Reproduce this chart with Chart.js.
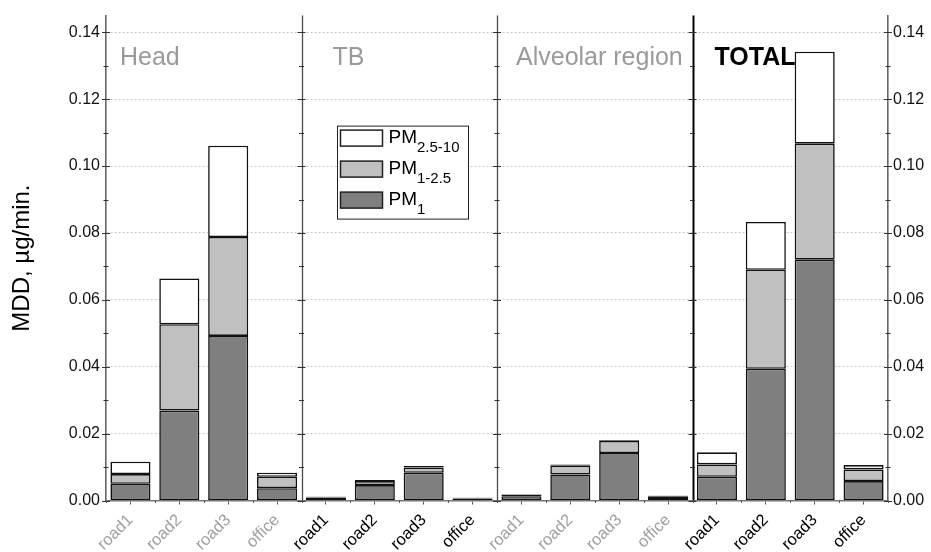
<!DOCTYPE html>
<html>
<head>
<meta charset="utf-8">
<script src="https://cdn.jsdelivr.net/npm/chart.js@4.4.1/dist/chart.umd.min.js"></script>
<style>
  html, body { margin: 0; padding: 0; background: #fff; }
  canvas { display: block; }
</style>
</head>
<body>
<canvas id="c" width="931" height="552"></canvas>
<script>
// Deposition regions and sampling sites
const regions = ['Head', 'TB', 'Alveolar region', 'TOTAL'];
const sites = ['road1', 'road2', 'road3', 'office'];
const categories = regions.flatMap(() => sites);

// MDD per size fraction (µg/min), ordered Head | TB | Alveolar | TOTAL
const pm1 = [
  0.0050, 0.0269, 0.0492, 0.0037,
  0.0009, 0.0046, 0.0083, 0.0006,
  0.0013, 0.0078, 0.0142, 0.0011,
  0.0071, 0.0394, 0.0720, 0.0058
];
const pm1to25 = [
  0.0029, 0.0258, 0.0296, 0.0034,
  0.0002, 0.0012, 0.0016, 0.0002,
  0.0004, 0.0026, 0.0036, 0.0003,
  0.0037, 0.0296, 0.0347, 0.0035
];
const pm25to10 = [
  0.0037, 0.0137, 0.0273, 0.0012,
  0.0001, 0.0003, 0.0004, 0.0001,
  0.0002, 0.0004, 0.0002, 0.0001,
  0.0036, 0.0143, 0.0275, 0.0013
];

// Value axis tick positions
const yTickValues = [0, 0.02, 0.04, 0.06, 0.08, 0.10, 0.12, 0.14];

// Legend entries: base text + subscript
const legendEntries = [['PM', '2.5-10'], ['PM', '1-2.5'], ['PM', '1']];

const FONT = '"Liberation Sans", Arial, Helvetica, sans-serif';
const fillColors = { pm1: '#7f7f7f', pm1to25: '#c0c0c0', pm25to10: '#ffffff' };
const legendFills = [fillColors.pm25to10, fillColors.pm1to25, fillColors.pm1];
const titleOffsets = [14, 31, 19, 22];

function seg(ctx, x1, y1, x2, y2) {
  ctx.beginPath(); ctx.moveTo(x1, y1); ctx.lineTo(x2, y2); ctx.stroke();
}

const overlay = {
  id: 'overlay',
  afterDraw(chart) {
    const { ctx, chartArea: a, scales: { x, y } } = chart;
    ctx.save();

    // group separators
    const bounds = [3.5, 7.5, 11.5];
    bounds.forEach((v, i) => {
      const px = Math.round(x.getPixelForValue(v)) + 0.5;
      ctx.strokeStyle = i === 2 ? '#000' : '#4a4a4a';
      ctx.lineWidth = i === 2 ? 2 : 1.3;
      seg(ctx, px, a.top, px, a.bottom);
    });

    // tick marks on the axes and separators (major every 0.02, minor every 0.01)
    const posts = [a.left, ...bounds.map(v => x.getPixelForValue(v)), a.right];
    ctx.strokeStyle = '#333';
    ctx.lineWidth = 1;
    for (let k = 0; k <= 14; k++) {
      const py = Math.round(y.getPixelForValue(k * 0.01)) + 0.5;
      const len = k % 2 === 0 ? 4 : 2.5;
      posts.forEach(p => seg(ctx, p - len, py, p + len, py));
    }
    // minor ticks between categories on the bottom axis
    ctx.strokeStyle = '#555';
    for (let i = 0; i <= categories.length; i++) {
      const px = Math.round(x.getPixelForValue(i - 0.5)) + 0.5;
      seg(ctx, px, a.bottom, px, a.bottom + 2.5);
    }

    // region titles
    ctx.textBaseline = 'middle';
    ctx.textAlign = 'left';
    regions.forEach((r, i) => {
      const px = x.getPixelForValue(i * 4 - 0.5) + titleOffsets[i];
      const last = i === regions.length - 1;
      ctx.font = (last ? 'bold ' : '') + '25px ' + FONT;
      ctx.fillStyle = last ? '#000' : '#9a9a9a';
      ctx.fillText(r, px, a.top + 43);
    });

    // legend box
    const bx = a.left + 231.5, by = a.top + 110.5, bw = 131, bh = 93;
    ctx.fillStyle = '#fff';
    ctx.fillRect(bx, by, bw, bh);
    ctx.strokeStyle = '#222';
    ctx.lineWidth = 1;
    ctx.strokeRect(bx, by, bw, bh);
    legendEntries.forEach(([base, sub], i) => {
      const sy = by + 4 + i * 31;
      ctx.fillStyle = legendFills[i];
      ctx.fillRect(bx + 3, sy, 42, 16);
      ctx.lineWidth = 1.5;
      ctx.strokeStyle = '#222';
      ctx.strokeRect(bx + 3, sy, 42, 16);
      ctx.fillStyle = '#000';
      ctx.textBaseline = 'alphabetic';
      ctx.font = '19px ' + FONT;
      const tx = bx + 51;
      ctx.fillText(base, tx, sy + 13);
      const w = ctx.measureText(base).width;
      ctx.font = '15px ' + FONT;
      ctx.fillText(sub, tx + w, sy + 22);
    });

    ctx.restore();
  }
};

const setTicks = s => { s.ticks = yTickValues.map(v => ({ value: v })); };

new Chart(document.getElementById('c'), {
  type: 'bar',
  data: {
    labels: categories,
    datasets: [
      { label: 'PM1', data: pm1, backgroundColor: fillColors.pm1 },
      { label: 'PM1-2.5', data: pm1to25, backgroundColor: fillColors.pm1to25 },
      { label: 'PM2.5-10', data: pm25to10, backgroundColor: fillColors.pm25to10 }
    ].map(d => Object.assign(d, {
      borderColor: '#111',
      borderWidth: 1.6,
      borderSkipped: false,
      categoryPercentage: 1,
      barPercentage: 0.82
    }))
  },
  options: {
    responsive: false,
    animation: false,
    layout: { padding: { top: 11, left: 0, right: 0, bottom: 0 } },
    plugins: { legend: { display: false }, tooltip: { enabled: false } },
    scales: {
      x: {
        stacked: true,
        afterFit: s => { s.height = 51.5; },
        grid: { display: true, drawOnChartArea: false, drawTicks: true, tickLength: 4, offset: false, color: '#555' },
        border: { display: true, color: '#777', width: 1.5 },
        ticks: {
          autoSkip: false,
          minRotation: 45,
          maxRotation: 45,
          padding: 6,
          font: { family: FONT, size: 16.5 },
          color: ctx => (Math.floor(ctx.index / 4) % 2 === 0 ? '#a0a0a0' : '#000')
        }
      },
      y: {
        stacked: true,
        position: 'left',
        min: 0,
        max: 0.145,
        afterBuildTicks: setTicks,
        afterFit: s => { s.width = 106; },
        grid: { color: '#c8c8c8', lineWidth: 1, drawTicks: false },
        border: { display: true, color: '#666', width: 1.6, dash: [2, 2] },
        ticks: {
          padding: 6,
          color: '#111',
          font: { family: FONT, size: 16 },
          callback: v => v.toFixed(2)
        },
        title: {
          display: true,
          text: 'MDD, µg/min.',
          color: '#000',
          font: { family: FONT, size: 24 },
          padding: { top: 8, bottom: 0 }
        }
      },
      y2: {
        position: 'right',
        min: 0,
        max: 0.145,
        afterBuildTicks: setTicks,
        afterFit: s => { s.width = 43; },
        grid: { drawOnChartArea: false, drawTicks: false },
        border: { display: true, color: '#666', width: 1.6 },
        ticks: {
          padding: 5,
          color: '#111',
          font: { family: FONT, size: 16 },
          callback: v => v.toFixed(2)
        }
      }
    }
  },
  plugins: [overlay]
});
</script>
</body>
</html>
